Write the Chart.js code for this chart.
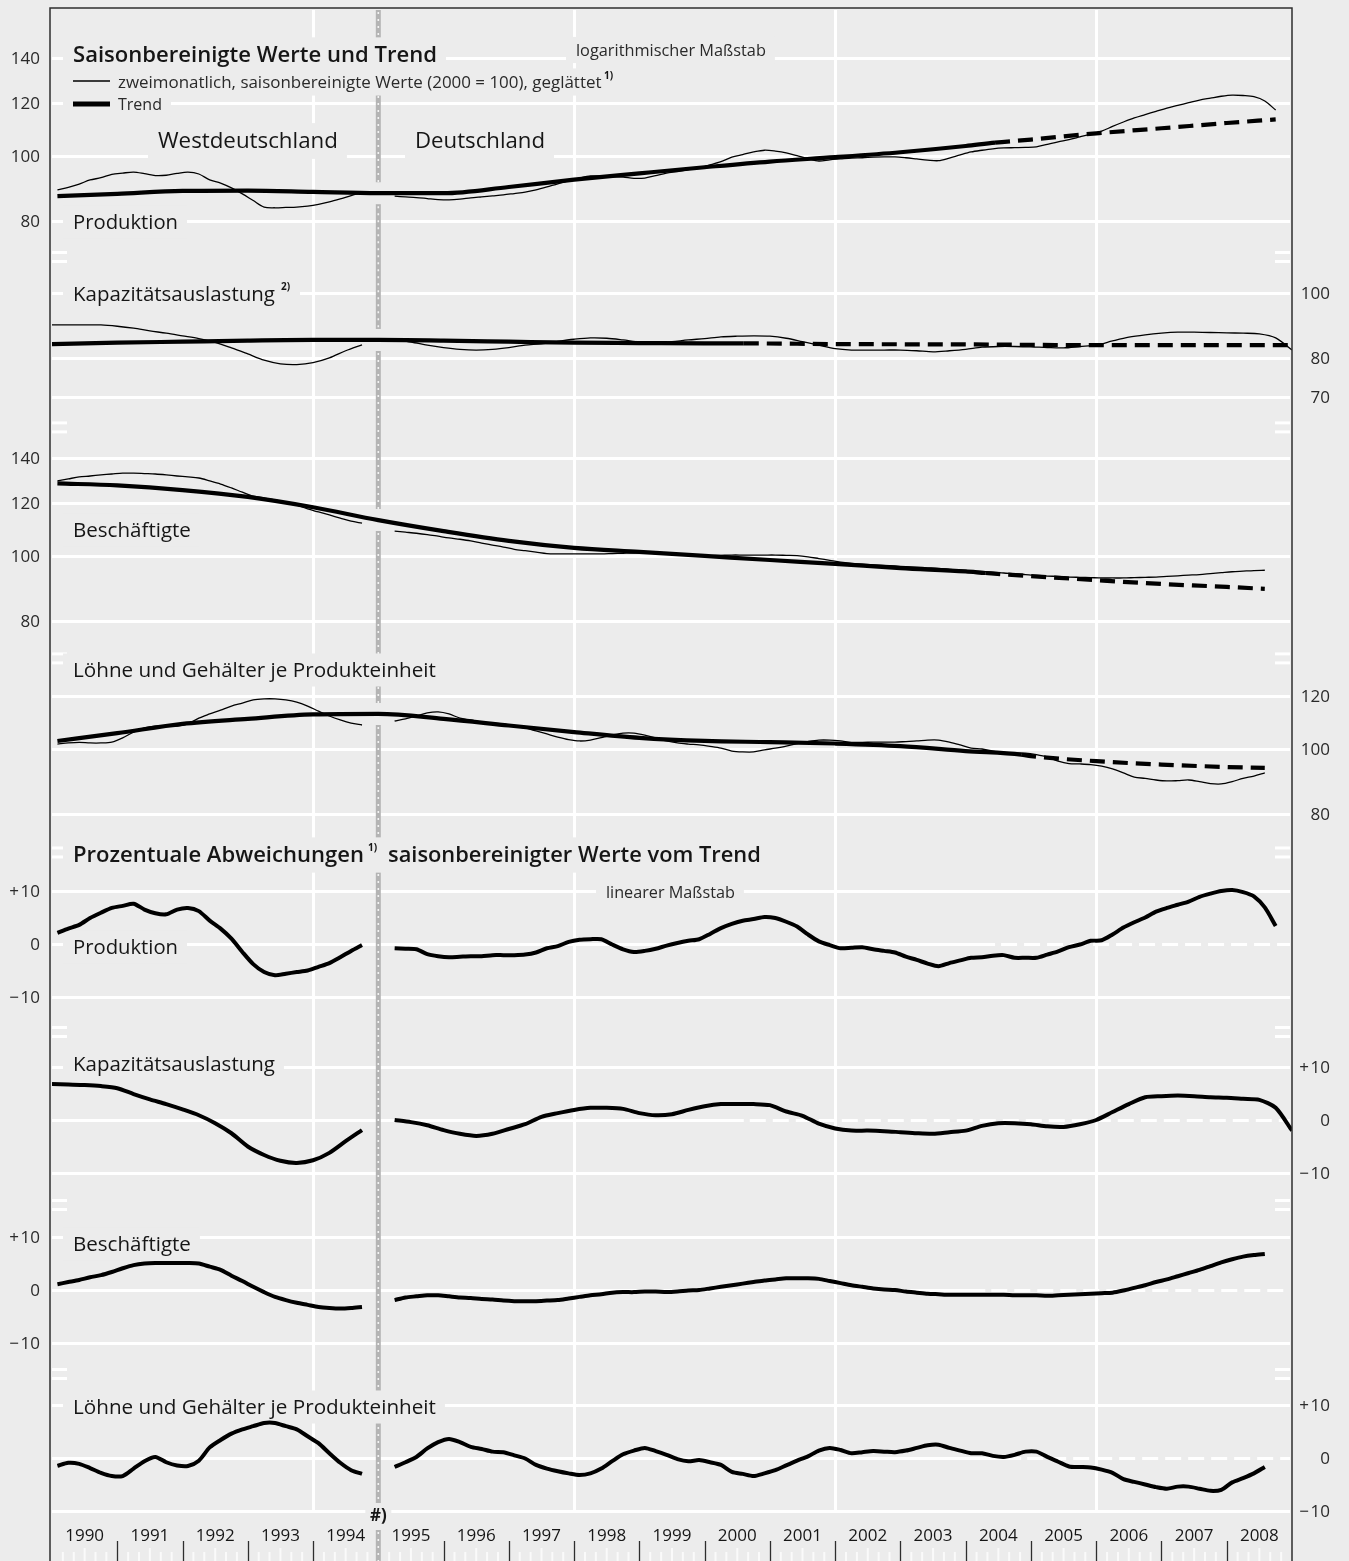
<!DOCTYPE html>
<html>
<head>
<meta charset="utf-8">
<script src="https://cdn.jsdelivr.net/npm/chart.js@4.4.0/dist/chart.umd.min.js"></script>
<style>
  html, body { margin: 0; padding: 0; background: #ececec; overflow: hidden; }
  canvas { display: block; }
</style>
</head>
<body>
<canvas id="chart" width="1349" height="1561"></canvas>
<script>
// time grids: bi-monthly (centre of each two-month period) and quarterly
const biMonths = [];
for (let i = 0; i < 114; i++) biMonths.push(1990 + 1 / 12 + i / 6);
const quarters = [];
for (let k = 0; k <= 76; k++) quarters.push(1990 + k / 4);
const D0 = 31;  // first bi-monthly slot with all-German data
const K0 = 21;  // first quarterly slot with all-German data

const years = [1990, 1991, 1992, 1993, 1994, 1995, 1996, 1997, 1998, 1999,
  2000, 2001, 2002, 2003, 2004, 2005, 2006, 2007, 2008];
const gridYears = [1994, 1998, 2002, 2006];
const breakYear = 1995;

// tick labels
const prodTicks = [80, 100, 120, 140];
const kapTicks = [70, 80, 100];
const besTicks = [80, 100, 120, 140];
const lohTicks = [80, 100, 120];
const devTicks = [-10, 0, 10];

// --- Produktion (2000 = 100) ---
const prodWD = [89.0, 89.8, 90.8, 92.1, 92.8, 93.9, 94.3, 94.6, 94.1, 93.5, 93.6, 94.2, 94.6, 94.0,
  92.1, 91.1, 89.6, 87.8, 85.8, 83.9, 83.7, 83.8, 83.9, 84.2, 84.7, 85.4, 86.3, 87.3, 88.2];
const prodD = [87.1, 86.9, 86.7, 86.4, 86.1, 86.0, 86.2, 86.6, 86.9, 87.2,
  87.5, 87.9, 88.3, 89.0, 89.9, 90.9, 91.8, 92.7, 93.4, 93.3,
  93.1, 93.0, 92.6, 92.7, 93.5, 94.3, 94.8, 95.4, 96.0, 97.0,
  98.1, 99.6, 100.5, 101.4, 102.0, 101.7, 101.1, 100.1, 99.1, 98.3,
  98.7, 99.0, 99.3, 99.4, 99.6, 99.7, 99.7, 99.4, 99.0, 98.6,
  98.4, 99.3, 100.4, 101.4, 102.0, 102.5, 102.8, 102.9, 103.0, 103.2,
  104.1, 105.0, 105.8, 106.8, 107.8, 108.9, 110.7, 112.4, 114.0, 115.3,
  116.6, 117.9, 119.0, 120.1, 121.2, 122.0, 122.8, 123.3, 123.1, 122.6,
  120.8, 117.1];
const prodTrendT = [1990.083, 1991, 1992, 1993, 1994, 1995, 1996, 1997, 1998, 1999, 2000,
  2001, 2002, 2003, 2004, 2004.45, 2005, 2006, 2007, 2008, 2008.75];
const prodTrend = [87.1, 87.8, 88.7, 88.8, 88.4, 88.0, 88.0, 89.9, 92.2, 94.2, 96.2,
  98.1, 99.6, 101.3, 103.5, 104.7, 105.8, 108.1, 110.0, 112.0, 113.4];

// --- Kapazitaetsauslastung (quarterly, %) ---
const kapWD = [89.6, 89.6, 89.6, 89.6, 89.2, 88.6, 87.8, 87.1, 86.3, 85.5,
  84.4, 82.8, 81.1, 79.4, 78.4, 78.2, 78.7, 80.0, 82.0, 83.7];
const kapD = [85.1, 84.5, 83.6, 82.9, 82.4, 82.2, 82.4, 82.9, 83.6, 84.0,
  84.7, 85.3, 85.7, 85.6, 85.1, 84.5, 84.2, 84.6, 85.1, 85.5,
  86.0, 86.2, 86.3, 86.2, 85.6, 84.6, 83.6, 82.6, 82.2, 82.2,
  82.2, 82.2, 82.0, 81.7, 82.0, 82.4, 83.0, 83.2, 83.2, 83.1,
  82.9, 82.8, 83.2, 83.6, 84.8, 85.9, 86.6, 87.1, 87.4, 87.4,
  87.3, 87.2, 87.1, 86.9, 85.7, 82.2];
const kapTrendT = [1990, 1991, 1992, 1993, 1994, 1995, 1996, 1997, 1998, 1999, 2000, 2000.6,
  2002, 2004, 2006, 2009];
const kapTrend = [83.9, 84.3, 84.6, 84.9, 85.1, 85.1, 84.9, 84.6, 84.3, 84.2, 84.1, 84.1,
  83.9, 83.8, 83.6, 83.6];

// --- Beschaeftigte ---
const besWD = [129.4, 130.3, 131.2, 131.6, 132.1, 132.5, 132.9, 132.9, 132.7, 132.5, 132.1, 131.6,
  131.2, 130.7, 129.4, 128.0, 126.3, 124.5, 122.8, 122.0, 121.2, 119.9, 119.1, 117.5, 116.3,
  115.1, 113.9, 112.7, 111.9];
const besD = [108.9, 108.5, 108.1, 107.6, 107.0, 106.4, 105.9, 105.3, 104.5, 103.8,
  103.1, 102.3, 101.8, 101.3, 100.8, 100.7, 100.7, 100.7, 100.7, 100.7,
  100.8, 100.9, 101.0, 101.0, 100.8, 100.6, 100.4, 100.2, 100.0, 100.1,
  100.2, 100.3, 100.3, 100.3, 100.3, 100.3, 100.2, 100.1, 99.7, 99.1,
  98.5, 97.9, 97.5, 97.2, 97.0, 96.8, 96.6, 96.4, 96.2, 96.0,
  95.8, 95.5, 95.2, 95.0, 94.8, 94.6, 94.3, 94.1, 93.8, 93.5,
  93.3, 93.2, 93.0, 92.9, 92.8, 92.7, 92.7, 92.7, 92.8, 92.9,
  93.0, 93.2, 93.4, 93.6, 93.8, 94.1, 94.4, 94.7, 94.9, 95.1, 95.2];
const besTrendT = [1990.083, 1991, 1992, 1993, 1994, 1995, 1996, 1997, 1998, 1999, 2000,
  2001, 2002, 2003, 2004, 2004.3, 2005, 2006, 2007, 2008, 2008.583];
const besTrend = [128.3, 127.4, 125.4, 122.5, 118.2, 113.1, 108.9, 105.3, 102.8, 101.4, 100.0,
  98.6, 97.3, 95.9, 94.8, 94.3, 93.3, 92.0, 90.8, 89.9, 89.3];

// --- Loehne und Gehaelter je Produkteinheit ---
const lohWD = [101.7, 102.1, 102.3, 102.1, 102.1, 102.4, 103.9, 106.0, 107.5, 108.2, 108.2, 108.2,
  109.0, 111.2, 112.8, 114.3, 115.9, 117.1, 118.4, 118.8, 118.8, 118.4, 117.5, 115.9, 113.9,
  112.0, 110.5, 109.3, 108.6];
const lohD = [110.1, 110.9, 112.0, 113.2, 113.6, 112.8, 111.2, 110.5, 109.7, 109.3,
  109.0, 108.2, 107.5, 106.4, 105.3, 104.2, 103.3, 102.8, 103.1, 104.0,
  104.9, 105.6, 105.6, 104.9, 103.9, 102.8, 102.1, 101.7, 101.4, 100.9,
  100.3, 99.3, 99.0, 99.0, 99.7, 100.3, 101.0, 101.9, 102.6, 103.1,
  103.1, 102.8, 102.3, 102.3, 102.4, 102.4, 102.4, 102.6, 102.8, 103.1,
  103.1, 102.4, 101.4, 100.3, 100.0, 99.3, 98.8, 98.6, 98.6, 98.1,
  97.3, 95.9, 95.1, 95.0, 94.8, 94.3, 93.4, 92.1, 90.8, 90.4,
  89.9, 89.6, 89.7, 89.9, 89.4, 88.8, 88.7, 89.4, 90.4, 91.1, 92.1];
const lohTrendT = [1990.083, 1991, 1992, 1993, 1994, 1995, 1996, 1997, 1998, 1999, 2000,
  2001, 2002, 2003, 2004, 2004.85, 2005, 2006, 2007, 2008, 2008.583];
const lohTrend = [102.8, 105.6, 109.0, 110.9, 112.6, 112.8, 110.9, 108.4, 106.0, 103.9, 102.8,
  102.4, 101.9, 101.0, 99.3, 98.1, 97.6, 95.9, 94.8, 94.0, 93.7];

// --- percentage deviations from trend ---
const prodDevWD = [2.1, 2.9, 3.6, 4.9, 5.9, 6.8, 7.2, 7.6, 6.5, 5.8, 5.6, 6.5, 6.8, 6.2, 4.4, 2.9,
  1.0, -1.5, -3.8, -5.3, -5.9, -5.6, -5.3, -5.0, -4.3, -3.6, -2.5, -1.3, -0.2];
const prodDevD = [-0.8, -0.9, -1.0, -1.9, -2.3, -2.5, -2.4, -2.3, -2.3, -2.1,
  -2.1, -2.1, -2.0, -1.6, -0.8, -0.4, 0.4, 0.8, 0.9, 0.9,
  -0.1, -1.0, -1.5, -1.3, -0.9, -0.3, 0.2, 0.6, 0.9, 1.9,
  3.0, 3.8, 4.4, 4.7, 5.1, 4.9, 4.2, 3.3, 1.8, 0.5,
  -0.2, -0.8, -0.7, -0.6, -1.0, -1.3, -1.6, -2.4, -3.0, -3.7,
  -4.2, -3.6, -3.1, -2.6, -2.5, -2.2, -2.1, -2.6, -2.6, -2.6,
  -2.0, -1.4, -0.6, -0.1, 0.6, 0.7, 1.8, 3.1, 4.1, 5.0,
  6.1, 6.8, 7.4, 8.0, 8.9, 9.5, 10.0, 10.2, 9.8, 9.0,
  6.9, 3.4];
const kapDevWD = [6.8, 6.7, 6.6, 6.4, 6.0, 4.9, 3.9, 3.0, 2.0, 0.9,
  -0.6, -2.5, -5.0, -6.6, -7.7, -8.1, -7.6, -6.2, -4.0, -1.9];
const kapDevD = [0.0, -0.4, -1.0, -1.9, -2.6, -3.0, -2.6, -1.7, -0.8, 0.6,
  1.3, 1.9, 2.3, 2.3, 2.1, 1.3, 0.9, 1.1, 1.9, 2.6,
  3.0, 3.0, 3.0, 2.8, 1.6, 0.8, -0.7, -1.6, -2.0, -2.0,
  -2.1, -2.3, -2.5, -2.6, -2.3, -2.0, -1.1, -0.6, -0.6, -0.8,
  -1.2, -1.3, -0.8, 0.0, 1.5, 3.0, 4.3, 4.5, 4.6, 4.5,
  4.3, 4.2, 4.0, 3.8, 2.3, -2.0];
const besDevWD = [1.1, 1.5, 1.9, 2.4, 2.8, 3.4, 4.1, 4.7, 5.0, 5.1, 5.1, 5.1, 5.1, 5.0, 4.4, 3.8,
  2.7, 1.7, 0.6, -0.4, -1.3, -1.9, -2.4, -2.8, -3.2, -3.4, -3.5, -3.4, -3.2];
const besDevD = [-1.9, -1.4, -1.2, -1.0, -1.0, -1.2, -1.4, -1.5, -1.7, -1.8,
  -2.0, -2.1, -2.1, -2.1, -2.0, -1.9, -1.6, -1.3, -1.0, -0.8,
  -0.5, -0.4, -0.4, -0.3, -0.3, -0.4, -0.3, -0.1, 0.0, 0.3,
  0.6, 0.9, 1.2, 1.5, 1.8, 2.0, 2.2, 2.2, 2.2, 2.1,
  1.7, 1.3, 0.9, 0.6, 0.3, 0.1, 0.0, -0.3, -0.5, -0.7,
  -0.8, -0.9, -0.9, -0.9, -0.9, -0.9, -0.9, -1.0, -1.0, -1.0,
  -1.1, -1.0, -0.9, -0.8, -0.7, -0.6, -0.5, -0.1, 0.4, 0.9,
  1.5, 2.0, 2.6, 3.2, 3.8, 4.5, 5.2, 5.8, 6.3, 6.6, 6.8];
const lohDevWD = [-1.5, -0.9, -1.1, -1.9, -2.8, -3.4, -3.4, -2.0, -0.6, 0.2, -0.8, -1.4, -1.5, -0.5,
  2.0, 3.4, 4.6, 5.4, 6.0, 6.6, 6.6, 6.0, 5.4, 4.1, 2.8, 0.9, -0.9, -2.3, -3.0];
const lohDevD = [-1.7, -0.8, 0.2, 1.8, 3.0, 3.6, 3.0, 2.1, 1.7, 1.2,
  1.1, 0.5, -0.1, -1.3, -2.0, -2.5, -2.9, -3.2, -2.9, -2.0,
  -0.6, 0.7, 1.4, 1.9, 1.3, 0.6, -0.2, -0.6, -0.4, -0.8,
  -1.3, -2.6, -3.0, -3.4, -2.9, -2.3, -1.4, -0.5, 0.3, 1.4,
  1.9, 1.5, 0.9, 1.1, 1.3, 1.2, 1.1, 1.4, 1.9, 2.4,
  2.5, 1.9, 1.4, 0.9, 0.9, 0.4, 0.2, 0.6, 1.2, 1.2,
  0.2, -0.7, -1.6, -1.7, -1.8, -2.2, -2.8, -4.0, -4.5, -5.0,
  -5.5, -5.8, -5.4, -5.4, -5.8, -6.2, -6.0, -4.6, -3.8, -2.9, -1.7];

// ---- layout ----
const H = 1561;
const K = 291;   // px per ln-unit on the log panels
const S = 5.3;   // px per percentage point on the linear panels
const BG = '#ececec';
const INK = '#161616';
const FONT = '"Open Sans", "Noto Sans", sans-serif';
const GRID_L = 52, GRID_R = 1290;

const panels = [
  {id: 'p1', type: 'logarithmic', ref: 100, at: 156, side: 'left', ticks: prodTicks},
  {id: 'p2', type: 'logarithmic', ref: 100, at: 293, side: 'right', ticks: kapTicks},
  {id: 'p3', type: 'logarithmic', ref: 140, at: 458, side: 'left', ticks: besTicks},
  {id: 'p4', type: 'logarithmic', ref: 100, at: 749, side: 'right', ticks: lohTicks},
  {id: 'p5', type: 'linear', ref: 0, at: 944, side: 'left', ticks: devTicks, dashFrom: 2004.45},
  {id: 'p6', type: 'linear', ref: 0, at: 1120, side: 'right', ticks: devTicks, dashFrom: 2000.6},
  {id: 'p7', type: 'linear', ref: 0, at: 1290, side: 'left', ticks: devTicks, dashFrom: 2004.3},
  {id: 'p8', type: 'linear', ref: 0, at: 1458, side: 'right', ticks: devTicks, dashFrom: 2004.85}
];

function axisRange(p) {
  if (p.type === 'logarithmic') {
    const dec = K * Math.LN10, l = Math.log10(p.ref);
    return {min: Math.pow(10, l - (H - p.at) / dec), max: Math.pow(10, l + p.at / dec)};
  }
  return {min: p.ref - (H - p.at) / S, max: p.ref + p.at / S};
}

const scales = {x: {type: 'linear', min: 1990, max: 2009, display: false, bounds: 'data'}};
panels.forEach(p => {
  scales[p.id] = Object.assign({type: p.type, axis: 'y', position: 'left', display: false, bounds: 'data'}, axisRange(p));
});

function series(times, vals, start) {
  return vals.map((v, j) => ({x: times[start + j], y: v}));
}
function thin(data, axis) {
  return {data, yAxisID: axis, borderColor: '#000', borderWidth: 1.3, pointRadius: 0,
    tension: 0.3, borderJoinStyle: 'round'};
}
function dev(data, axis) {
  return {data, yAxisID: axis, borderColor: '#000', borderWidth: 4, pointRadius: 0,
    tension: 0.25, borderJoinStyle: 'round'};
}
function trend(times, vals, axis, dashFrom) {
  return {data: series(times, vals, 0), yAxisID: axis, borderColor: '#000', borderWidth: 4.2,
    pointRadius: 0, cubicInterpolationMode: 'monotone', isTrend: true,
    segment: {borderDash: c => (c.p0.parsed.x >= dashFrom - 1e-6 ? [15, 8] : [])}};
}

const datasets = [
  trend(prodTrendT, prodTrend, 'p1', 2004.45),
  trend(kapTrendT, kapTrend, 'p2', 2000.6),
  trend(besTrendT, besTrend, 'p3', 2004.3),
  trend(lohTrendT, lohTrend, 'p4', 2004.85),
  thin(series(biMonths, prodWD, 0), 'p1'), thin(series(biMonths, prodD, D0), 'p1'),
  thin(series(quarters, kapWD, 0), 'p2'), thin(series(quarters, kapD, K0), 'p2'),
  thin(series(biMonths, besWD, 0), 'p3'), thin(series(biMonths, besD, D0), 'p3'),
  thin(series(biMonths, lohWD, 0), 'p4'), thin(series(biMonths, lohD, D0), 'p4'),
  dev(series(biMonths, prodDevWD, 0), 'p5'), dev(series(biMonths, prodDevD, D0), 'p5'),
  dev(series(quarters, kapDevWD, 0), 'p6'), dev(series(quarters, kapDevD, K0), 'p6'),
  dev(series(biMonths, besDevWD, 0), 'p7'), dev(series(biMonths, besDevD, D0), 'p7'),
  dev(series(biMonths, lohDevWD, 0), 'p8'), dev(series(biMonths, lohDevD, D0), 'p8')
];

// text labels: left x, centre y, target width
const labels = [
  {t: 'Saisonbereinigte Werte und Trend', x: 73, y: 55, w: 364, wt: 600, s: 21, x1: 446},
  {t: 'zweimonatlich, saisonbereinigte Werte (2000 = 100), geglättet', x: 118, y: 82, w: 484, wt: 400, s: 15, x0: 63, x1: 616},
  {t: 'Trend', x: 118, y: 104, w: 44, wt: 400, s: 15, x0: 63},
  {t: 'logarithmischer Maßstab', x: 576, y: 50, w: 190, wt: 400, s: 15},
  {t: 'Westdeutschland', x: 158, y: 141, w: 180, wt: 500, s: 21},
  {t: 'Deutschland', x: 415, y: 141, w: 130, wt: 500, s: 21},
  {t: 'Produktion', x: 73, y: 222, w: 105, wt: 400, s: 20},
  {t: 'Kapazitätsauslastung', x: 73, y: 294, w: 202, wt: 400, s: 20, x1: 300},
  {t: 'Beschäftigte', x: 73, y: 530, w: 118, wt: 400, s: 20},
  {t: 'Löhne und Gehälter je Produkteinheit', x: 73, y: 670, w: 363, wt: 400, s: 20},
  {t: 'Prozentuale Abweichungen', x: 73, y: 855, w: 291, wt: 600, s: 20, x1: 771},
  {t: 'saisonbereinigter Werte vom Trend', x: 388, y: 855, w: 373, wt: 600, s: 20, nobox: true},
  {t: 'linearer Maßstab', x: 606, y: 892, w: 129, wt: 400, s: 15},
  {t: 'Produktion', x: 73, y: 947, w: 105, wt: 400, s: 20},
  {t: 'Kapazitätsauslastung', x: 73, y: 1064, w: 202, wt: 400, s: 20},
  {t: 'Beschäftigte', x: 73, y: 1244, w: 118, wt: 400, s: 20},
  {t: 'Löhne und Gehälter je Produkteinheit', x: 73, y: 1407, w: 363, wt: 400, s: 20}
];
const supers = [
  {t: '1)', x: 604, y: 76},
  {t: '2)', x: 281, y: 287},
  {t: '1)', x: 368, y: 848}
];

function line(c, x0, y0, x1, y1) {
  c.beginPath(); c.moveTo(x0, y0); c.lineTo(x1, y1); c.stroke();
}

function fitFont(c, l) {
  c.font = `${l.wt} ${l.s}px ${FONT}`;
  const m = c.measureText(l.t).width;
  const size = l.w ? l.s * l.w / m : l.s;
  c.font = `${l.wt} ${size.toFixed(2)}px ${FONT}`;
  return size;
}

const decor = {
  id: 'decor',
  beforeDraw(chart) {
    const c = chart.ctx;
    c.save();
    c.fillStyle = BG;
    c.fillRect(0, 0, chart.width, chart.height);
    c.restore();
  },
  beforeDatasetsDraw(chart) {
    const c = chart.ctx, xs = chart.scales.x;
    c.save();
    c.lineCap = 'butt';
    // horizontal grid lines of every panel
    c.strokeStyle = '#fff';
    c.lineWidth = 3;
    panels.forEach(p => {
      const sc = chart.scales[p.id];
      p.ticks.forEach(v => {
        const y = Math.round(sc.getPixelForValue(v)) + 0.5;
        if (p.dashFrom !== undefined && v === 0) {
          const xd = xs.getPixelForValue(p.dashFrom);
          line(c, GRID_L, y, xd, y);
          c.setLineDash([16, 7]);
          line(c, xd + 6, y, GRID_R, y);
          c.setLineDash([]);
        } else {
          line(c, GRID_L, y, GRID_R, y);
        }
      });
    });
    // vertical grid lines
    const yLow = chart.scales.p8.getPixelForValue(-10);
    gridYears.forEach(yr => {
      const x = Math.round(xs.getPixelForValue(yr)) + 0.5;
      line(c, x, 10, x, yLow);
    });
    // axis-break marks between panels
    for (let i = 0; i < panels.length - 1; i++) {
      const a = chart.scales[panels[i].id], b = chart.scales[panels[i + 1].id];
      const lowA = Math.max(...panels[i].ticks.map(v => a.getPixelForValue(v)));
      const topB = Math.min(...panels[i + 1].ticks.map(v => b.getPixelForValue(v)));
      const ym = (lowA + topB) / 2;
      [ym - 4.5, ym + 4.5].forEach(y => {
        line(c, GRID_L, y, GRID_L + 15, y);
        line(c, GRID_R - 15, y, GRID_R, y);
      });
    }
    // break line West Germany / Germany
    const xb = xs.getPixelForValue(breakYear);
    const gaps = [];
    chart.data.datasets.forEach((ds, i) => {
      if (!ds.isTrend) return;
      const meta = chart.getDatasetMeta(i);
      const j = ds.data.findIndex(d => Math.abs(d.x - breakYear) < 1e-6);
      if (j >= 0) gaps.push(meta.data[j].y);
    });
    gaps.sort((a, b) => a - b);
    let y0 = 10;
    const segs = [];
    gaps.forEach(g => { segs.push([y0, g - 11]); y0 = g + 11; });
    segs.push([y0, H]);
    segs.forEach(([a, b]) => {
      c.strokeStyle = '#b4b4b4'; c.lineWidth = 5;
      line(c, xb, a, xb, b);
      c.strokeStyle = '#f4f4f4'; c.lineWidth = 1.6;
      c.setLineDash([2, 5]);
      line(c, xb, a + 2, xb, b);
      c.setLineDash([]);
    });
    // text labels on knocked-out boxes
    c.textBaseline = 'middle';
    c.textAlign = 'left';
    labels.forEach(l => {
      const size = fitFont(c, l);
      const w = c.measureText(l.t).width;
      if (!l.nobox) {
        const x0 = l.x0 !== undefined ? l.x0 : l.x - 10;
        const x1 = l.x1 !== undefined ? l.x1 : l.x + w + 9;
        c.fillStyle = BG;
        c.fillRect(x0, l.y - size * 0.8, x1 - x0, size * 1.6);
      }
      c.fillStyle = l.wt === 400 && l.s < 16 ? '#2a2a2a' : INK;
      c.fillText(l.t, l.x, l.y + 1);
    });
    c.font = `700 10px ${FONT}`;
    c.fillStyle = INK;
    supers.forEach(s => c.fillText(s.t, s.x, s.y));
    // legend samples
    c.strokeStyle = '#000';
    c.lineWidth = 1.3; line(c, 73, 81, 110, 81);
    c.lineWidth = 5; line(c, 73, 104, 110, 104);
    // tick labels
    c.font = `400 17px ${FONT}`;
    c.fillStyle = '#2a2a2a';
    panels.forEach(p => {
      const sc = chart.scales[p.id];
      c.textAlign = 'right';
      p.ticks.forEach(v => {
        let txt = String(v);
        if (p.type === 'linear') txt = v > 0 ? '+\u200A' + v : v < 0 ? '\u2212\u200A' + (-v) : '0';
        c.fillText(txt, p.side === 'left' ? 40 : 1330, sc.getPixelForValue(v) + 1);
      });
    });
    c.restore();
  },
  afterDatasetsDraw(chart) {
    const c = chart.ctx, xs = chart.scales.x;
    c.save();
    // frame
    c.strokeStyle = '#2e2e2e';
    c.lineWidth = 1.5;
    c.beginPath();
    c.moveTo(50, H); c.lineTo(50, 8); c.lineTo(1292, 8); c.lineTo(1292, H);
    c.stroke();
    // time axis: year labels, year ticks and bi-monthly ticks
    c.font = `400 17px ${FONT}`;
    c.fillStyle = INK;
    c.textAlign = 'center';
    c.textBaseline = 'middle';
    years.forEach(yr => {
      c.fillText(String(yr), xs.getPixelForValue(yr + 0.5), 1536);
      for (let m = 1; m < 6; m++) {
        const x = xs.getPixelForValue(yr + m / 6);
        c.strokeStyle = '#fafafa'; c.lineWidth = 2;
        line(c, x, m === 3 ? 1548 : 1552, x, H);
      }
      if (yr > 1990 && yr !== breakYear) {
        const x = Math.round(xs.getPixelForValue(yr)) + 0.5;
        c.strokeStyle = '#2e2e2e'; c.lineWidth = 1.3;
        line(c, x, 1541, x, H);
      }
    });
    // break footnote marker
    c.font = `700 17px ${FONT}`;
    c.fillStyle = BG;
    c.fillRect(xs.getPixelForValue(breakYear) - 13, 1503, 26, 27);
    c.fillStyle = INK;
    c.fillText('#)', xs.getPixelForValue(breakYear), 1516);
    c.restore();
  }
};

new Chart(document.getElementById('chart'), {
  type: 'line',
  data: {datasets},
  options: {
    responsive: false,
    animation: false,
    events: [],
    layout: {padding: {left: 52, right: 57, top: 0, bottom: 0}},
    scales,
    plugins: {legend: {display: false}, tooltip: {enabled: false}, title: {display: false}}
  },
  plugins: [decor]
});
</script>
</body>
</html>
